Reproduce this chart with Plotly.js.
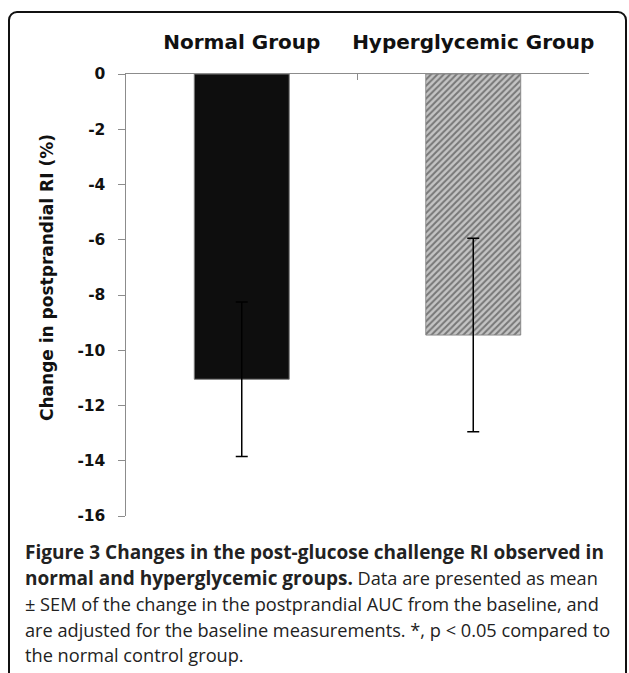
<!DOCTYPE html>
<html>
<head>
<meta charset="utf-8">
<script src="https://cdn.plot.ly/plotly-3.0.1.min.js"></script>
<style>
html,body{margin:0;padding:0;background:#fff;}
#wrap{position:relative;width:629px;height:673px;overflow:hidden;}
#chart{position:absolute;left:0;top:0;width:629px;height:673px;}
#frame{position:absolute;left:8px;top:11px;width:615px;height:700px;border:2px solid #111;border-radius:9px;pointer-events:none;}
</style>
</head>
<body>
<div id="wrap">
<div id="chart"></div>
<div id="frame"></div>
</div>
<script>
const groups = ["Normal Group", "Hyperglycemic Group"];
const changeRI = [-11.05, -9.45];
const sem = [2.8, 3.5];
const yTicks = [0, -2, -4, -6, -8, -10, -12, -14, -16];
const yTitle = "Change in postprandial RI (%)";
const B = s => '<span style="font-size:19px"><b>' + s + '</b></span>';
const captionLines = [
  B("Figure 3 Changes in the post-glucose challenge RI observed in"),
  B("normal and hyperglycemic groups.") + " Data are presented as mean",
  "± SEM of the change in the postprandial AUC from the baseline, and",
  "are adjusted for the baseline measurements. *, p &lt; 0.05 compared to",
  "the normal control group."
];

const traces = [
  {
    type: 'bar',
    x: [groups[0]],
    y: [changeRI[0]],
    width: 0.41,
    marker: {color: '#0e0e0e', line: {color: '#7a7a7a', width: 1}},
    error_y: {type: 'data', array: [sem[0]], visible: true, color: '#000', thickness: 1.5, width: 6},
    showlegend: false,
    hoverinfo: 'skip'
  },
  {
    type: 'bar',
    x: [groups[1]],
    y: [changeRI[1]],
    width: 0.41,
    marker: {
      color: '#c4c4c4',
      line: {color: '#8a8a8a', width: 1},
      pattern: {shape: '/', bgcolor: '#c4c4c4', fgcolor: '#2a2a2a', size: 4.5, solidity: 0.45, fillmode: 'overlay'}
    },
    error_y: {type: 'data', array: [sem[1]], visible: true, color: '#000', thickness: 1.5, width: 6},
    showlegend: false,
    hoverinfo: 'skip'
  }
];

const plotTop = 74, plotBottom = 516, plotLeft = 126, plotW = 463;
const capY = [552, 578, 604, 630, 655];
const annotations = [
  {
    text: '<b>' + yTitle + '</b>',
    xref: 'paper', yref: 'paper',
    x: (47 - plotLeft) / plotW, y: (plotBottom - 278) / (plotBottom - plotTop),
    xanchor: 'center', yanchor: 'middle',
    textangle: -90,
    showarrow: false,
    font: {family: 'DejaVu Sans, sans-serif', size: 17, color: '#111'}
  }
];
captionLines.forEach((t, i) => {
  annotations.push({
    text: t,
    xref: 'paper', yref: 'paper',
    x: (23 - plotLeft) / plotW, y: (plotBottom - capY[i]) / (plotBottom - plotTop),
    xanchor: 'left', yanchor: 'middle',
    align: 'left',
    showarrow: false,
    font: {family: 'Open Sans, sans-serif', size: 18.2, color: '#222'}
  });
});

const layout = {
  width: 629,
  height: 673,
  margin: {l: plotLeft, r: 629 - plotLeft - plotW, t: plotTop, b: 673 - plotBottom},
  paper_bgcolor: 'rgba(0,0,0,0)',
  plot_bgcolor: 'rgba(0,0,0,0)',
  barmode: 'overlay',
  xaxis: {
    type: 'category',
    categoryarray: groups,
    side: 'top',
    showline: true,
    linecolor: '#8c8c8c',
    linewidth: 1.5,
    ticks: 'inside',
    tickson: 'boundaries',
    ticklen: 6,
    tickcolor: '#8c8c8c',
    tickangle: 0,
    tickfont: {family: 'DejaVu Sans, sans-serif', size: 20, color: '#111', weight: 'bold'},
    ticklabelstandoff: 16,
    showgrid: false,
    zeroline: false,
    fixedrange: true
  },
  yaxis: {
    range: [-16, 0],
    tickvals: yTicks,
    ticktext: yTicks.map(String),
    showline: true,
    linecolor: '#8c8c8c',
    linewidth: 1.5,
    ticks: 'outside',
    ticklen: 7,
    tickcolor: '#8c8c8c',
    tickfont: {family: 'DejaVu Sans, sans-serif', size: 15.5, color: '#111', weight: 'bold'},
    ticklabelstandoff: 9,
    showgrid: false,
    zeroline: false,
    fixedrange: true
  },
  annotations: annotations
};

Plotly.newPlot('chart', traces, layout, {displayModeBar: false, staticPlot: true});
</script>
</body>
</html>
